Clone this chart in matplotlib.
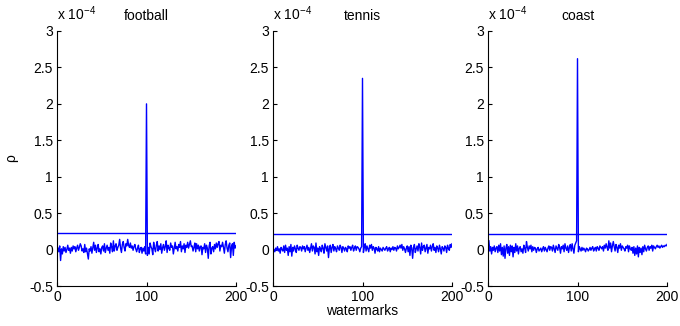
import numpy as np
import matplotlib
matplotlib.use('Agg')
import matplotlib.pyplot as plt
from matplotlib.ticker import FormatStrFormatter

plt.rcParams['font.family'] = ['Liberation Sans', 'DejaVu Sans']
plt.rcParams['font.size'] = 10

# detector response per watermark, in units of 1e-6
football = [
    2, -3, 5, -15, 1, -6, 4, -2, 3, -4,
    0, 6, -1, 2, -5, 3, -2, 5, 1, 4,
    -3, 2, 6, -1, 3, 8, 5, -2, 1, -4,
    7, -3, 2, -6, -13, 1, -2, 4, -5, 3,
    10, -1, 6, -4, 2, 7, -3, 1, -6, 3,
    5, -2, 8, -4, 2, 6, -1, 3, -5, 9,
    4, -3, 12, -2, 5, 8, -1, 3, 6, 14,
    2, -4, 7, 11, 3, -2, 8, 5, 14, 6,
    3, 9, 2, 5, -1, 4, 7, 1, -3, 2,
    6, -4, 1, 3, -5, 2, -2, 4, -6, 200,
    -8, 3, -6, 9, 4, 1, -7, 10, 2, -3,
    6, 11, -2, 5, 0, 8, -5, 3, 7, -1,
    4, 12, -4, 6, 2, -1, 9, 3, 5, -6,
    2, 10, 1, 4, -2, 7, 3, 11, -3, 5,
    1, 8, -4, 6, 3, 10, 2, 7, 12, 4,
    5, -2, 3, 9, -3, 8, 1, 6, -2, 4,
    5, -7, 3, 1, 8, -4, 6, 2, -12, 5,
    10, -6, 2, 4, -3, 7, 1, 9, 3, 8,
    11, -2, 6, 4, 10, 3, -5, 7, 12, 2,
    -3, 6, 9, -11, 4, 8, -8, 10, 2, 5,
]
tennis = [
    0, -3, 2, -1, 4, -2, 1, -5, 3, 0,
    -2, 5, -4, 6, -1, 2, -8, 4, -3, 7,
    -9, 3, -2, 5, 1, -4, 6, 2, -1, 4,
    3, -2, 5, 1, 4, -3, 2, 6, -1, 3,
    -4, 2, 8, -2, 5, 3, -6, 9, -3, 2,
    -8, 4, 1, -3, 6, 2, -5, 8, 3, -2,
    5, -11, 2, 6, -4, 3, 7, -2, 4, 1,
    -3, 5, 2, -1, 6, 3, -4, 4, 2, -2,
    3, 1, -3, 5, 2, 4, -1, 3, 6, -2,
    2, 5, -1, 4, 3, 1, -3, 2, 4, 235,
    -4, 3, 8, -2, 5, 1, -3, 6, 2, 7,
    -1, 4, 2, -5, 3, 1, -2, 4, -3, 2,
    0, -2, 3, 1, -1, 2, 4, -2, 1, 3,
    -3, 2, 0, 4, -1, 3, 2, -2, 5, 1,
    3, 6, 2, 7, -1, 4, 1, -4, 2, 5,
    -3, 4, -8, 6, 2, -12, 3, 7, -4, 1,
    5, -2, 8, 3, -6, 9, -1, 4, 6, -3,
    2, 7, -5, 3, 1, 6, -2, 4, 8, -1,
    3, -4, 5, 2, -3, 6, 1, -6, 4, 2,
    -2, 5, 3, -4, 6, 2, -1, 7, 3, 8,
]
coast = [
    12, -2, 4, -6, 3, -1, 5, -3, 2, 4,
    -4, 6, -2, 8, -7, 3, -9, 5, -12, 2,
    7, -5, 4, -8, 6, -3, 5, -10, 3, -4,
    8, -2, 5, -6, 2, 4, -3, 1, -5, 6,
    2, -4, 11, 3, -2, 5, 1, 6, -3, 4,
    -1, 3, 2, -4, 1, 3, -2, 0, 2, -3,
    1, 4, -2, 3, 0, -3, 2, 5, -1, 4,
    3, -2, 6, 1, -4, 5, 2, -1, 7, 3,
    -5, 4, 1, 6, -3, 8, 2, -1, 5, -4,
    3, 7, -2, 8, 1, -5, 6, 9, 12, 262,
    -3, 4, 1, -2, 3, -1, 2, 0, -3, 2,
    1, -2, 0, 3, -1, 2, 4, -2, 1, 3,
    -2, 4, 2, -1, 5, 3, 1, 4, -2, 6,
    2, 8, 3, -1, 12, 2, 9, -3, 5, 11,
    4, -2, 7, 3, -4, 6, 2, 8, -1, 5,
    3, 1, -2, 4, 2, 6, -3, 5, 1, -1,
    3, -5, 4, -8, 2, -6, 5, -10, 3, -4,
    2, -7, 4, -3, 6, 1, -2, 3, 5, -1,
    4, 2, 6, -2, 5, 3, 1, 4, 6, 3,
    5, 2, 4, 6, 3, 5, 4, 6, 5, 7,
]

titles = ['football', 'tennis', 'coast']
series = [football, tennis, coast]
thresholds = [0.228, 0.214, 0.212]  # in units of 1e-4
watermarks = np.arange(1, 201)

fig = plt.figure(figsize=(6.8, 3.26), dpi=100)
lefts = [57, 273, 488]

for i in range(3):
    ax = fig.add_axes([lefts[i] / 680, 40 / 326, 179 / 680, 255 / 326])
    y = np.array(series[i]) / 100.0
    ax.plot(watermarks, y, color='#0000ff', linewidth=1.0)
    ax.axhline(thresholds[i], color='#0000ff', linewidth=1.0)
    ax.set_xlim(0, 200)
    ax.set_ylim(-0.5, 3)
    ax.set_xticks([0, 100, 200])
    ax.set_yticks(np.arange(-0.5, 3.01, 0.5))
    ax.yaxis.set_major_formatter(FormatStrFormatter('%g'))
    ax.spines['top'].set_visible(False)
    ax.spines['right'].set_visible(False)
    ax.tick_params(direction='in', length=3, width=0.8, labelsize=10, pad=3)
    ax.set_title(titles[i], fontsize=10, pad=8)
    ax.text(0.0, 1.03, r'x 10$^{\mathregular{-4}}$', transform=ax.transAxes,
            ha='left', va='bottom', fontsize=10)
    if i == 0:
        ax.set_ylabel('ρ', labelpad=8)
    if i == 1:
        ax.set_xlabel('watermarks', labelpad=0)

fig.savefig('out.png', dpi=100)
